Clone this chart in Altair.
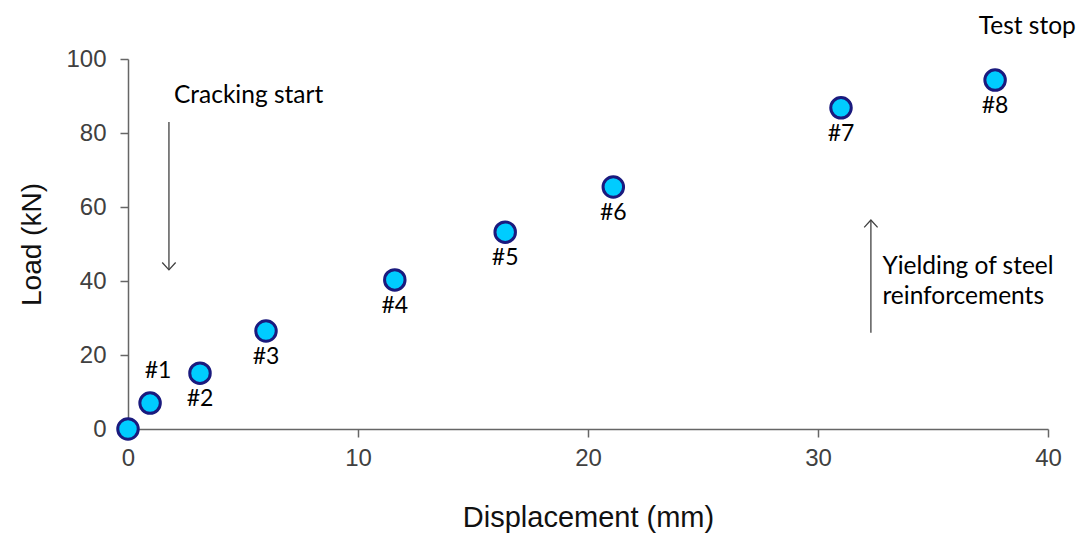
import altair as alt
import pandas as pd

# Measured points
disp = [0.0, 0.96, 3.13, 6.0, 11.6, 16.4, 21.1, 31.0, 37.7]
load = [0.0, 7.0, 15.1, 26.5, 40.3, 53.2, 65.4, 86.8, 94.3]
labels = ["", "#1", "#2", "#3", "#4", "#5", "#6", "#7", "#8"]
label_side = ["none", "above", "below", "below", "below", "below", "below", "below", "below"]

x_ticks = [0, 10, 20, 30, 40]
y_ticks = [0, 20, 40, 60, 80, 100]

# Annotations (data coordinates)
note_text = ["Cracking start", "Yielding of steel", "reinforcements"]
note_x = [2.0, 32.8, 32.8]
note_y = [90.0, 43.8, 35.7]
stop_text = ["Test stop"]
stop_x = [39.1]
stop_y = [108.6]

arrow_name = ["crack", "yield"]
arrow_x = [1.78, 32.3]
arrow_from = [83.0, 26.0]
arrow_to = [43.0, 56.5]

pts = pd.DataFrame({"d": disp, "l": load, "lab": labels, "side": label_side})
notes = pd.DataFrame({"t": note_text, "x": note_x, "y": note_y})
stop = pd.DataFrame({"t": stop_text, "x": stop_x, "y": stop_y})
arrows = pd.DataFrame({"n": arrow_name, "x": arrow_x, "y1": arrow_from, "y2": arrow_to})

xs = alt.Scale(domain=[0, 40], nice=False)
ys = alt.Scale(domain=[0, 100], nice=False)

X = alt.X("d:Q", scale=xs, axis=alt.Axis(values=x_ticks, title="Displacement (mm)",
                                         labelFlush=False, labelPadding=9, titlePadding=33,
                                         titleFontSize=29))
Y = alt.Y("l:Q", scale=ys, axis=alt.Axis(values=y_ticks, title="Load (kN)",
                                         labelPadding=14, titlePadding=19,
                                         titleFontSize=28))

base = alt.Chart(pts)

points = base.mark_point(filled=True, fill="#00CCFF", stroke="#1A1A7E",
                         strokeWidth=3, size=420, opacity=1, shape="circle").encode(x=X, y=Y)

TXT = dict(font="Lato", color="black", baseline="middle")
lab_below = base.transform_filter(alt.datum.side == "below").mark_text(
    fontSize=23, dy=26, **TXT).encode(x="d:Q", y="l:Q", text="lab:N")
lab_above = base.transform_filter(alt.datum.side == "above").mark_text(
    fontSize=23, dy=-32, dx=8, **TXT).encode(x="d:Q", y="l:Q", text="lab:N")

note_layer = alt.Chart(notes).mark_text(fontSize=24.5, align="left", **TXT).encode(
    x=alt.X("x:Q", scale=xs), y=alt.Y("y:Q", scale=ys), text="t:N")
stop_layer = alt.Chart(stop).mark_text(fontSize=24.5, align="center", **TXT).encode(
    x=alt.X("x:Q", scale=xs), y=alt.Y("y:Q", scale=ys), text="t:N")

shafts = alt.Chart(arrows).mark_rule(color="#404040", strokeWidth=1.3).encode(
    x=alt.X("x:Q", scale=xs), y=alt.Y("y1:Q", scale=ys), y2="y2:Q")
head_down = alt.Chart(arrows).transform_filter(alt.datum.n == "crack").mark_point(
    shape="M-1,-1.1L0,0L1,-1.1", filled=False, stroke="#404040", strokeWidth=1.3,
    size=180, opacity=1).encode(x=alt.X("x:Q", scale=xs), y=alt.Y("y2:Q", scale=ys))
head_up = alt.Chart(arrows).transform_filter(alt.datum.n == "yield").mark_point(
    shape="M-1,1.1L0,0L1,1.1", filled=False, stroke="#404040", strokeWidth=1.3,
    size=180, opacity=1).encode(x=alt.X("x:Q", scale=xs), y=alt.Y("y2:Q", scale=ys))

chart = alt.layer(shafts, head_down, head_up, points, lab_below, lab_above,
                  note_layer, stop_layer).properties(
    width=920, height=370,
    autosize=alt.AutoSizeParams(type="none"),
    padding={"left": 120, "top": 51, "right": 30, "bottom": 105},
).configure_view(stroke=None).configure_axis(
    grid=False, domainColor="#666666", domainWidth=1.5, tickColor="#666666", tickWidth=1.5,
    tickSize=8, labelFont="Liberation Sans", labelFontSize=24, labelColor="#404040",
    titleFont="Liberation Sans", titleFontWeight="normal", titleColor="#111111",
)

chart.save("out.html", embed_options={"renderer": "svg", "actions": False})
